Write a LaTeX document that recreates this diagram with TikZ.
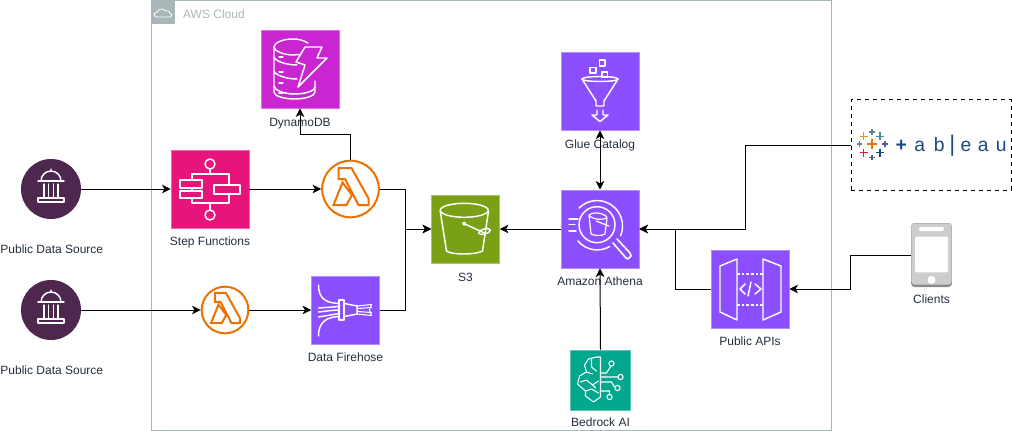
\documentclass[tikz,border=0pt]{standalone}
\usepackage{fontspec}
\setmainfont{Liberation Sans}
\usetikzlibrary{positioning,arrows.meta}
\definecolor{mypurple}{RGB}{140,79,255}
\definecolor{mymagenta}{RGB}{201,37,209}
\definecolor{mypink}{RGB}{231,21,123}
\definecolor{mygreen}{RGB}{122,161,22}
\definecolor{myteal}{RGB}{1,168,141}
\definecolor{myorange}{RGB}{237,113,0}
\definecolor{myplum}{RGB}{77,39,77}
\definecolor{mycloud}{RGB}{170,183,184}
\definecolor{mytext}{RGB}{35,47,62}
\definecolor{mynavy}{RGB}{27,75,126}
\definecolor{mytaba}{RGB}{91,135,155}
\definecolor{mytabb}{RGB}{89,89,143}
\definecolor{mytabr}{RGB}{232,21,47}
\definecolor{mytabo}{RGB}{242,142,43}
\definecolor{myphone}{RGB}{205,205,205}
\definecolor{myphonedark}{RGB}{140,140,140}
\tikzset{
  icn/.style={draw=white,line width=1.1pt,line join=round,line cap=round},
  pics/dbicon/.style={code={
    % stacked disks, cut by the bolt on the right
    \draw[icn] (8,-26) .. controls (3,-29) and (-2,-30) .. (-7,-30) .. controls (-18,-30) and (-26,-26) .. (-26,-22)
      .. controls (-26,-18) and (-16,-14) .. (-7,-14) -- (-1,-14.5);
    \draw[icn] (-26,-22) -- (-26,23) .. controls (-26,27) and (-16,30) .. (-5.5,30) .. controls (5,30) and (15,27) .. (15,23) -- (15,12);
    \draw[icn] (-26,-12) .. controls (-25,-8) and (-14,-4) .. (-3,-4);
    \draw[icn] (-26,2) .. controls (-25,6) and (-14,10) .. (-3,10);
    \draw[icn] (-26,17) .. controls (-26,21) and (-16,25) .. (-5.5,25) .. controls (5,25) and (15,22) .. (15,18);
    \draw[icn] (5,-22) -- (22,-22) -- (17,-11) -- (27,-11) -- (-2,18) -- (5,-4) -- (-4,-7) -- cycle;
    \foreach \yy in {-12,3,14,24} \draw[icn,line width=.8pt] (-21,\yy) -- (-17,\yy);
  }},
  pics/stepicon/.style={code={
    \draw[icn] (0,-25) circle (5) (0,26) circle (5);
    \draw[icn] (0,-20) -- (0,-15) (-18,-9) -- (-18,-15) -- (19,-15) -- (19,-4);
    \draw[icn] (-30,-9) rectangle (-8,-1) (-30,2) rectangle (-8,9) (4,-4) rectangle (30,5);
    \draw[icn] (-18,-1) -- (-18,2) (-18,9) -- (-18,14) -- (19,14) -- (19,5) (0,14) -- (0,21);
  }},
  pics/uniicon/.style={code={
    \draw[icn] (-13,9) rectangle (13,13) (-13,-8) -- (13,-8);
    \foreach \xx in {-7,-2.3,2.3,7} \draw[icn,line width=.8pt] (\xx,-5) -- (\xx,9);
    \draw[icn] (-10,-8) arc (180:360:10) (0,-18) -- (0,-20);
  }},
  pics/lamicon/.style={code={
    \draw[myorange,line width=1.5pt,line join=miter]
      (-12,-21) -- (1,-21) -- (18,9.5) -- (18,16) -- (8,16) -- (-5.5,-10) -- (-12,-10) -- cycle
      (-8,-6.5) -- (-17,16) -- (-4,16) -- (1.5,6) -- cycle;
  }},
  pics/hoseicon/.style={code={
    \draw[icn] (-6.3,-10) rectangle (-1.3,10);
    \draw[icn] (-1.3,-6.5) -- (11.7,-4) -- (11.7,4) -- (-1.3,6.5);
    \draw[icn] (-27,-25) .. controls (-27,-10) and (-18,-7) .. (-6,-6.5);
    \draw[icn] (-27,26) .. controls (-27,11) and (-18,7) .. (-6,6.5);
    \draw[icn] (-27,-2) -- (-6,-3.5) (-27,2) .. controls (-18,1) and (-12,0) .. (-6,0) (-27,7) -- (-6,3.5);
    \draw[icn,line width=.8pt] (11.7,-4) -- (26,-5.5) (11.7,-1.5) -- (26,-2.5) (11.7,1.5) -- (26,2.5) (11.7,4) -- (26,5.5);
    \draw[icn,line width=.8pt] (26,-5.5) -- (24,0) -- (26,5.5);
  }},
  pics/bucketicon/.style={code={
    \draw[icn] (-1.3,-18.7) ellipse (24 and 7);
    \draw[icn] (-25.3,-18) -- (-19,22) .. controls (-14,26) and (10,26) .. (17,22) -- (23,-18);
    \draw[icn] (-1.3,-5.3) -- (20,4.5);
    \fill[white] (-1.3,-5.3) circle (2);
    \draw[icn,rotate around={15:(19,2.5)}] (19,2.5) ellipse (6 and 2.5);
  }},
  pics/glueicon/.style={code={
    \draw[icn] (0,-12) ellipse (18 and 2.5);
    \draw[icn] (-18,-12) -- (-4,10) -- (-4,15) -- (4,15) -- (4,10) -- (18,-12);
    \draw[icn] (-3,19) -- (-3,24) -- (-8,24) -- (0,30.5) -- (8,24) -- (3,24) -- (3,19);
    \draw[icn] (-.5,-30.8) rectangle (5.1,-25.2) (-9.8,-23.5) rectangle (-4.2,-17.9) (1.9,-19.1) rectangle (7.5,-13.5);
  }},
  pics/athenaicon/.style={code={
    \draw[icn] (-3,-4.3) circle (18);
    \draw[icn] (-21,-21) arc (225:382:25.5) (-22,12) arc (140:60:25);
    \draw[icn,line width=1.2pt] (13,14) -- (26,29) -- (28,30) -- (31,27) -- (30,24) -- (17,10);
    \draw[icn,line width=.9pt] (-11,-14) -- (-9,5) .. controls (-5,7) and (2,7) .. (5,5) -- (7,-11) -- (6,-13) .. controls (0,-17) and (-7,-17) .. (-11,-14) (-11,-13) .. controls (-5,-9) and (2,-9) .. (7,-11) (-4,-8) -- (9,-3);
    \draw[icn] (-31,-10) -- (-22,-10) (-31,-4.5) -- (-25,-4.5) (-31,2) -- (-24,2);
  }},
  pics/apiicon/.style={code={
    \draw[icn] (-30,-23) -- (-13,-30) -- (-13,31) -- (-30,23) -- cycle;
    \draw[icn] (13,-30) -- (31,-23) -- (31,23) -- (13,31) -- cycle;
    \draw[icn,dash pattern=on 2pt off 1.5pt,line cap=butt] (-13,-15) -- (13,-15) (-13,16) -- (13,16);
    \draw[icn] (-5,-5) -- (-10,0) -- (-5,5) (5,-5) -- (11,0) -- (5,5) (1,-7) -- (-2,7);
  }},
  pics/brainicon/.style={code={
    \draw[icn,line width=.8pt] (0,-23) -- (-4,-23) -- (-12,-21) -- (-16,-15) -- (-14,-8) -- (-21,-4) -- (-23,4) -- (-15,11) -- (-15,16) -- (-7,22) -- (0,17) -- cycle;
    \draw[icn,line width=.8pt] (-9,-22) -- (-9,-13) -- (-4,-9) (-14,-8) -- (-8,-6) (-20,2) -- (-14,0) -- (-8,5) -- (-2,1) (-8,5) -- (-5,8) (-15,11) -- (-9,9) -- (-2,13);
    \draw[icn,line width=.8pt] (0,-7) -- (6,-7) -- (10.5,-14) (0,-3) -- (18,-3) (0,2) -- (11,2) -- (14,7) (0,11) -- (9,11) -- (9,15);
    \draw[icn,line width=.8pt] (11,-16.5) circle (2.6) (20,-3) circle (2.6) (17,8) circle (2.6) (9,17) circle (2.6);
  }},
  pics/phoneicon/.style={code={
    \fill[myphone,rounded corners=2.5pt] (-20.2,-31.7) rectangle (20.2,29.5);
    \fill[white,rounded corners=1pt] (-16.5,-18.3) rectangle (16.5,17.3);
    \fill[white,rounded corners=1.5pt] (-12.5,-28) rectangle (12.5,-24);
    \fill[white] (0,25) circle (4);
  }},
  pics/cloudicon/.style={code={
    \draw[white,line width=.6pt] (-6,5) .. controls (-10,5) and (-10,0) .. (-6,0) .. controls (-5,-4) and (1,-4) .. (2,-1)
      .. controls (5,-2) and (7,0) .. (6.5,1) .. controls (9,1) and (9,5) .. (6,5) -- cycle;
  }},
  pics/crossicon/.style={code={
    \draw[line width=#1] (-1,0) -- (1,0) (0,-1) -- (0,1);
  }}
}
\begin{document}
\begin{tikzpicture}[x=.75pt,y=-.75pt,
  box/.style={draw=#1!65!white,line width=.5pt,fill=#1,inner sep=0,minimum size=58.5pt},
  smallbox/.style={box=#1,minimum size=51pt},
  srcnode/.style={circle,fill=myplum,inner sep=0,minimum size=45pt},
  lamnode/.style={circle,draw=myorange,fill=white,line width=1.5pt,inner sep=0},
  lbl/.style={inner sep=0,text height=7pt,text depth=2pt,font=\fontsize{9}{10}\selectfont,text=mytext},
  conn/.style={draw=black,line width=.75pt,-{Stealth[length=6.5pt,width=6.5pt,inset=1.8pt]}}]

  \useasboundingbox (0,0) rectangle (1012,431);

  % cloud frame
  \node[draw=mycloud,line width=.75pt,fill=white,inner sep=0,minimum width=510pt,minimum height=322.5pt] (cloud) at (491.5,215.3) {};
  \node[fill=mycloud,inner sep=0,minimum size=18pt,below right=0pt of cloud.north west] (cloudtag) {};
  \pic at (cloudtag) {cloudicon};
  \node[lbl,text=mycloud,right=5.5pt of cloudtag,yshift=-2pt] (cloudname) {AWS Cloud};

  % left side
  \node[srcnode] (src1) at (51,189) {};
  \pic at (src1) {uniicon};
  \node[lbl,below=18.2pt of src1,xshift=.6pt] (src1name) {Public Data Source};
  \node[srcnode] (src2) at (51,310) {};
  \pic at (src2) {uniicon};
  \node[lbl,below=18.2pt of src2,xshift=.6pt] (src2name) {Public Data Source};

  \node[box=mypink] (step) at (210,189) {};
  \pic at (step) {stepicon};
  \node[lbl,below=6pt of step] (stepname) {Step Functions};

  \node[box=mymagenta] (dynamo) at (300,69) {};
  \pic at (dynamo) {dbicon};
  \node[lbl,below=6.7pt of dynamo] (dynamoname) {DynamoDB};

  \node[lamnode,minimum size=42.5pt] (lam1) at (350.5,189) {};
  \pic at (lam1) {lamicon};
  \node[lamnode,minimum size=35pt] (lam2) at (225,310) {};
  \pic[scale=.82] at (lam2) {lamicon};

  \node[smallbox=mypurple] (hose) at (345.5,310) {};
  \pic at (hose) {hoseicon};
  \node[lbl,below=5.5pt of hose] (hosename) {Data Firehose};

  \node[smallbox=mygreen] (s3) at (465.5,229) {};
  \pic at (s3) {bucketicon};
  \node[lbl,below=6.7pt of s3] (s3name) {S3};

  % right side
  \node[box=mypurple] (glue) at (600,91) {};
  \pic at (glue) {glueicon};
  \node[lbl,below=6.7pt of glue] (gluename) {Glue Catalog};

  \node[box=mypurple] (athena) at (600,229) {};
  \pic at (athena) {athenaicon};
  \node[lbl,below=6pt of athena] (athenaname) {Amazon Athena};

  \node[box=myteal,minimum size=45pt] (bedrock) at (600.5,380) {};
  \pic at (bedrock) {brainicon};
  \node[lbl,below=5.2pt of bedrock] (bedrockname) {Bedrock AI};

  \node[box=mypurple] (api) at (750,289) {};
  \pic at (api) {apiicon};
  \node[lbl,below=6pt of api] (apiname) {Public APIs};

  \node[draw,dashed,line width=.75pt,fill=white,inner sep=0,minimum width=120pt,minimum height=67.5pt] (tableau) at (931,145) {};
  \foreach \xx/\yy/\cc/\ss/\ww in {872/144/myorange/5/1.6pt,
    863.5/136.5/mytabo/4/1.2pt,880/136.5/mytaba/4/1.2pt,
    863.5/152.5/mytabr/4/1.2pt,880/152.5/mynavy/4/1.2pt,
    872/132/mytaba/2.8/.9pt,859.5/144/mytaba/2.8/.9pt,
    885/144/mytabb/2.8/.9pt,872/157.5/mytabb/2.8/.9pt}
    \pic[color=\cc,scale=\ss] at (\xx,\yy) {crossicon=\ww};
  \node[inner sep=0,text=mynavy,font=\fontsize{14.5}{15}\selectfont] (tabname) at (951,145.5)
    {\textbf{+}\hspace{5.75pt}a\hspace{6.5pt}b\hspace{3.5pt}{\fontsize{17}{17}\selectfont|}\hspace{4pt}e\hspace{5pt}a\hspace{5.3pt}u};

  \node[inner sep=0,fill=myphonedark,rounded corners=2.5pt,minimum width=30.5pt,minimum height=48pt] (phone) at (931.5,255) {};
  \pic at (phone) {phoneicon};
  \node[lbl,below=5.2pt of phone] (phonename) {Clients};

  % bends
  \coordinate (busbend) at (405,229);
  \coordinate (dynbend) at (300,134.5);
  \coordinate (tabbend) at (745,229);
  \coordinate (apibend) at (675,229);
  \coordinate (clientbend) at (850.5,289);

  % left connectors
  \draw[conn] (src1) -- (step);
  \draw[conn] (step) -- (lam1);
  \draw[conn] (src2) -- (lam2);
  \draw[conn] (lam2) -- (hose);
  \draw[conn] (lam1.north) |- (dynbend) -- (dynamo.south);
  \draw[conn] (lam1.east) -| (busbend) -- (s3.west);
  \draw[conn] (hose.east) -| (busbend) -- (s3.west);

  % right connectors
  \draw[conn] (athena.west) -- (s3.east);
  \draw[conn,{Stealth[length=6.5pt,width=6.5pt,inset=1.8pt]}-{Stealth[length=6.5pt,width=6.5pt,inset=1.8pt]}] (glue.south) -- (athena.north);
  \draw[conn] (bedrock.north) -- (athena.south);
  \draw[conn] (tableau.west) -| (tabbend) -- (athena.east);
  \draw[conn] (api.west) -| (apibend) -- (athena.east);
  \draw[conn] (phone.west) -| (clientbend) -- (api.east);

\end{tikzpicture}
\end{document}
